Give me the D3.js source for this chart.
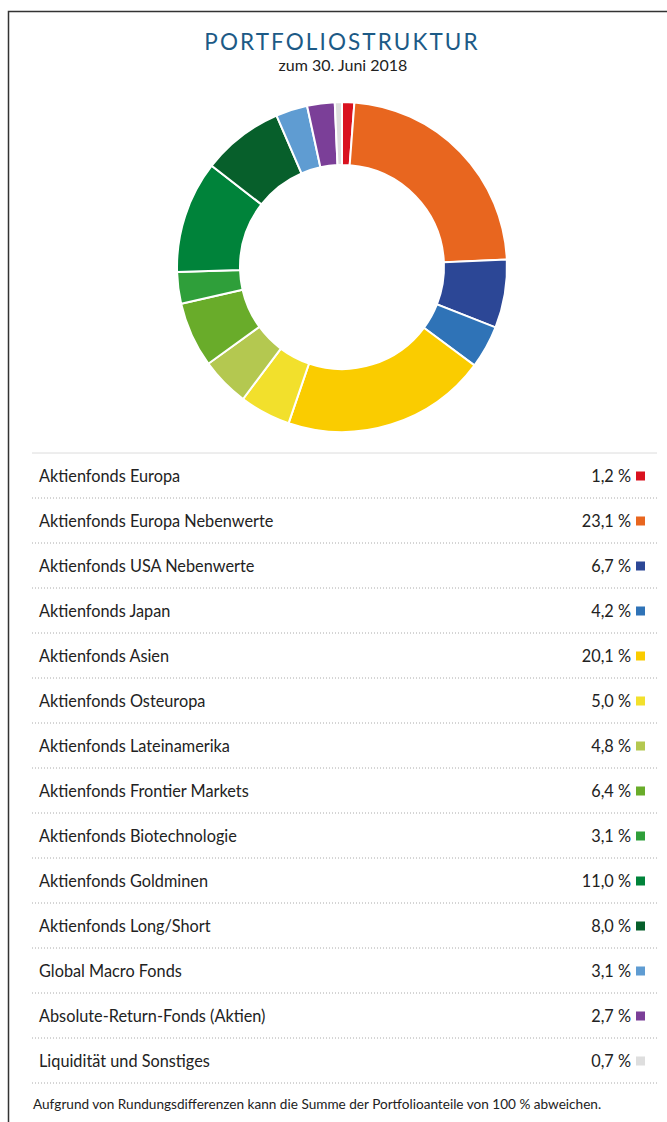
<!DOCTYPE html>
<html><head><meta charset="utf-8">
<script src="https://cdn.jsdelivr.net/npm/d3@7"></script>
<style>
html,body{margin:0;padding:0;background:#fff;}
svg{display:block;}
text{font-family:"Lato","Open Sans",sans-serif;}
</style></head>
<body>
<svg id="c" width="667" height="1122"></svg>
<script>
const categories = ["Aktienfonds Europa","Aktienfonds Europa Nebenwerte","Aktienfonds USA Nebenwerte","Aktienfonds Japan","Aktienfonds Asien","Aktienfonds Osteuropa","Aktienfonds Lateinamerika","Aktienfonds Frontier Markets","Aktienfonds Biotechnologie","Aktienfonds Goldminen","Aktienfonds Long/Short","Global Macro Fonds","Absolute-Return-Fonds (Aktien)","Liquidität und Sonstiges"];
const values = [1.2,23.1,6.7,4.2,20.1,5.0,4.8,6.4,3.1,11.0,8.0,3.1,2.7,0.7];
const colors = ["#d9121f","#e8661f","#2c4796","#2f73b7","#facc00","#f2e02c","#b4c850","#69ac2a","#2f9f3a","#00833a","#075f2b","#5f9cd2","#7b3f98","#dedede"];
const title = "PORTFOLIOSTRUKTUR";
const subtitle = "zum 30. Juni 2018";
const footnote = "Aufgrund von Rundungsdifferenzen kann die Summe der Portfolioanteile von 100 % abweichen.";

const svg = d3.select("#c");
// frame
svg.append("path").attr("d","M8.5,1122 V11.5 H667").attr("fill","none").attr("stroke","#333").attr("stroke-width",1.5);

svg.append("text").attr("x",342).attr("y",50).attr("text-anchor","middle")
  .attr("font-size",22.5).attr("letter-spacing",2.1).attr("fill","#1c5a86").text(title);
svg.append("text").attr("x",343).attr("y",71).attr("text-anchor","middle")
  .attr("font-size",16).attr("fill","#222").text(subtitle);

// donut
const cx=342, cy=267, rOut=165, rIn=102;
const pie = d3.pie().value(d=>d).sort(null);
const arc = d3.arc().innerRadius(rIn).outerRadius(rOut);
const g = svg.append("g").attr("transform",`translate(${cx},${cy})`);
g.selectAll("path").data(pie(values)).join("path")
  .attr("d",arc).attr("fill",(d,i)=>colors[i])
  .attr("stroke","#fff").attr("stroke-width",2);

// legend
const y = d3.scaleBand().domain(categories).range([453,1083]);
const x0=32, x1=657;
svg.append("line").attr("x1",x0).attr("x2",x1).attr("y1",453).attr("y2",453)
  .attr("stroke","#dcdcdc").attr("stroke-width",1);
const rows = svg.selectAll("g.row").data(categories).join("g").attr("class","row")
  .attr("transform",d=>`translate(0,${y(d)})`);
rows.append("line").attr("x1",x0).attr("x2",x1).attr("y1",y.bandwidth()).attr("y2",y.bandwidth())
  .attr("stroke","#aaa").attr("stroke-width",1).attr("stroke-dasharray","1,2");
rows.append("text").attr("x",39).attr("y",29).attr("font-size",16.3).attr("fill","#222").text(d=>d);
rows.append("text").attr("x",631).attr("y",29).attr("text-anchor","end").attr("font-size",16.3).attr("fill","#222")
  .text((d,i)=>values[i].toFixed(1).replace(".",",")+" %");
rows.append("rect").attr("x",636).attr("y",18.5).attr("width",9).attr("height",9)
  .attr("fill",(d,i)=>colors[i]);

svg.append("text").attr("x",33).attr("y",1109).attr("font-size",13.6).attr("fill","#222").text(footnote);
</script>
</body></html>
